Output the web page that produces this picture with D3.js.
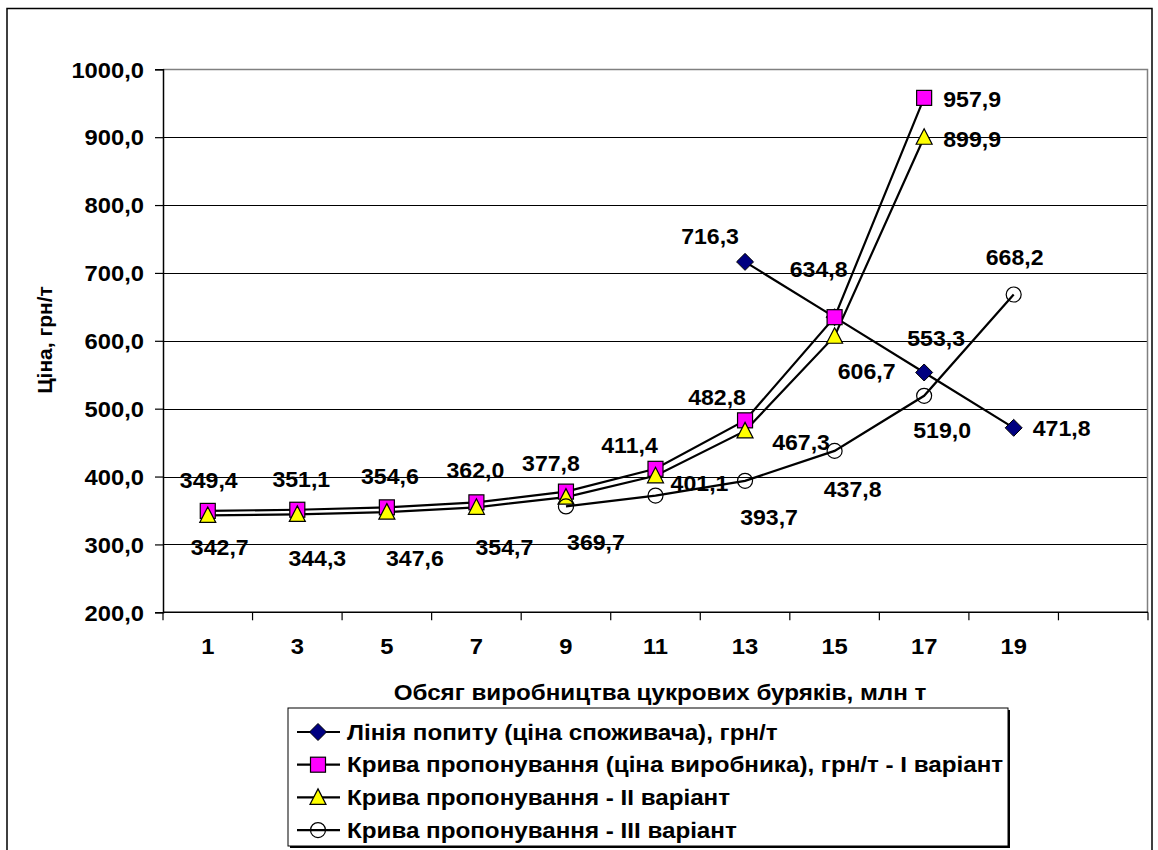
<!DOCTYPE html>
<html>
<head>
<meta charset="utf-8">
<script src="https://cdn.jsdelivr.net/npm/d3@7"></script>
<style>
  body { margin: 0; background: #fff; }
  svg text { font-family: "Liberation Sans", Arial, sans-serif; font-weight: bold; fill: #000; }
</style>
</head>
<body>
<svg width="1158" height="850"></svg>
<script>
// categories on the x axis (last one is an empty slot)
const categories = ["1", "3", "5", "7", "9", "11", "13", "15", "17", "19", ""]

const demand = [null, null, null, null, null, null, 716.3, 634.8, 553.3, 471.8, null]
const supplyI = [349.4, 351.1, 354.6, 362.0, 377.8, 411.4, 482.8, 634.8, 957.9, null, null]
const supplyII = [342.7, 344.3, 347.6, 354.7, 369.7, 401.1, 467.3, 606.7, 899.9, null, null]
const supplyIII = [null, null, null, null, 356.0, 372.0, 393.7, 437.8, 519.0, 668.2, null]

const yTicks = [200, 300, 400, 500, 600, 700, 800, 900, 1000]

const seriesNames = [
  "Лінія попиту (ціна споживача), грн/т",
  "Крива пропонування (ціна виробника), грн/т - І варіант",
  "Крива пропонування - ІІ варіант",
  "Крива пропонування - ІІІ варіант"
]

const fmt = v => d3.format(".1f")(v).replace(".", ",")

const svg = d3.select("svg")

const x = d3.scaleBand().domain(categories).range([163, 1148]).padding(0)
const y = d3.scaleLinear().domain([200, 1000]).range([612.3, 69.3])
const cx = c => x(c) + x.bandwidth() / 2

// text in the source is a bit wider than Liberation Sans, stretch it horizontally
function label(parent, px, py, str, size, anchor, sx) {
  return parent.append("text")
    .attr("transform", `translate(${px},${py}) scale(${sx},1)`)
    .attr("dy", "0.35em").attr("text-anchor", anchor)
    .style("font-size", size + "px").text(str)
}

// label offsets from each point (layout only), null = no label shown
const labelPos = [
  [null, null, null, null, null, null, [-35, -26], [-16, -48], [12, -34], [48, 0]],
  [[1, -31], [4, -30], [3, -31], [-1, -32], [-15, -28], [-26, -24], [-28, -23], null, [48, 1]],
  [[12, 32], [20, 44], [28, 46], [28, 40], [30, 45], [44, 7], [56, 11], [32, 35], [48, 2]],
  [null, null, null, null, null, null, [24, 36], [18, 38], [18, 35], [1, -37]]
]

const series = [
  { values: demand, shape: "diamond", fill: "#000080" },
  { values: supplyI, shape: "square", fill: "#ff00ff" },
  { values: supplyII, shape: "triangle", fill: "#ffff00" },
  { values: supplyIII, shape: "circle", fill: "none" }
]

// outer chart frame
svg.append("rect").attr("x", 7).attr("y", 8.5).attr("width", 1145).attr("height", 860)
  .attr("fill", "none").attr("stroke", "#000").attr("stroke-width", 1.5)

// gridlines
svg.append("g").selectAll("line").data(yTicks.filter(t => t > 200 && t < 1000)).join("line")
  .attr("x1", 163).attr("x2", 1148)
  .attr("y1", d => Math.round(y(d)) + 0.5).attr("y2", d => Math.round(y(d)) + 0.5)
  .attr("stroke", "#000").attr("stroke-width", 1)

// plot frame top/right (gray)
svg.append("path")
  .attr("d", `M163,${Math.round(y(1000)) + 0.5}H1147.5V${Math.round(y(200))}`)
  .attr("fill", "none").attr("stroke", "#808080").attr("stroke-width", 1.5)

// y axis
const yAxis = svg.append("g").attr("transform", "translate(163,0)")
  .call(d3.axisLeft(y).tickValues(yTicks).tickSize(8).tickPadding(11).tickFormat(fmt))
yAxis.select(".domain").attr("stroke-width", 1.5)
yAxis.selectAll(".tick line").attr("stroke-width", 1.2)
yAxis.selectAll("text").style("font-size", "22px").attr("dy", "0.35em")
  .attr("x", -19 / 1.08).attr("transform", "scale(1.08,1)")

// x axis with ticks between categories
const xg = svg.append("g").attr("transform", `translate(0,${y(200)})`)
xg.append("line").attr("x1", 163).attr("x2", 1148).attr("stroke", "#000").attr("stroke-width", 1.5)
xg.selectAll(".tk").data(categories.concat(["end"])).join("line").attr("class", "tk")
  .attr("x1", (d, i) => 163 + i * x.bandwidth()).attr("x2", (d, i) => 163 + i * x.bandwidth())
  .attr("y1", 0).attr("y2", 8).attr("stroke", "#000").attr("stroke-width", 1.2)
categories.forEach(c => label(xg, cx(c), 34, c, 22, "middle", 1.08))

// axis titles
label(svg, 660, 692, "Обсяг виробництва цукрових буряків, млн т", 22, "middle", 1.1)
svg.append("text").attr("transform", "translate(45,340) rotate(-90)").attr("dy", "0.35em")
  .attr("text-anchor", "middle").style("font-size", "21px").text("Ціна, грн/т")

function marker(g, shape, fill) {
  if (shape === "diamond") {
    g.append("path").attr("d", "M0,-8.5L8.5,0L0,8.5L-8.5,0Z").attr("fill", fill).attr("stroke", "#000").attr("stroke-width", 1)
  } else if (shape === "square") {
    g.append("rect").attr("x", -7.5).attr("y", -7.5).attr("width", 15).attr("height", 15)
      .attr("fill", fill).attr("stroke", "#000").attr("stroke-width", 1.2)
  } else if (shape === "triangle") {
    g.append("path").attr("d", "M0,-8.5L8,7L-8,7Z").attr("fill", fill).attr("stroke", "#000").attr("stroke-width", 1.2)
  } else {
    g.append("circle").attr("r", 7.5).attr("fill", fill).attr("stroke", "#000").attr("stroke-width", 1.2)
  }
}

const line = d3.line()
  .defined(d => d.v !== null)
  .x(d => cx(d.c)).y(d => y(d.v))

series.forEach(s => {
  const pts = categories.map((c, i) => ({ c, v: s.values[i] }))
  svg.append("path").datum(pts).attr("d", line)
    .attr("fill", "none").attr("stroke", "#000").attr("stroke-width", 2.2)
})

// markers
series.forEach(s => {
  categories.forEach((c, i) => {
    const v = s.values[i]
    if (v === null || v === undefined) return
    const g = svg.append("g").attr("transform", `translate(${cx(c)},${y(v)})`)
    marker(g, s.shape, s.fill)
  })
})

// data labels
series.forEach((s, k) => {
  categories.forEach((c, i) => {
    const v = s.values[i]
    const off = labelPos[k][i]
    if (v === null || v === undefined || !off) return
    label(svg, cx(c) + off[0], y(v) + off[1], fmt(v), 22, "middle", 1.05)
  })
})

// legend
const lg = svg.append("g").attr("transform", "translate(288,708)")
lg.append("rect").attr("x", 2).attr("y", 2).attr("width", 720).attr("height", 138).attr("fill", "#000")
lg.append("rect").attr("width", 720).attr("height", 138).attr("fill", "#fff").attr("stroke", "#000").attr("stroke-width", 1)
seriesNames.forEach((name, i) => {
  const row = lg.append("g").attr("transform", `translate(0,${24 + i * 32.7})`)
  row.append("line").attr("x1", 9).attr("x2", 52).attr("stroke", "#000").attr("stroke-width", 2.2)
  const m = row.append("g").attr("transform", "translate(30,0)")
  marker(m, series[i].shape, series[i].fill)
  label(row, 59, 0, name, 22, "start", 1.1)
})
</script>
</body>
</html>
